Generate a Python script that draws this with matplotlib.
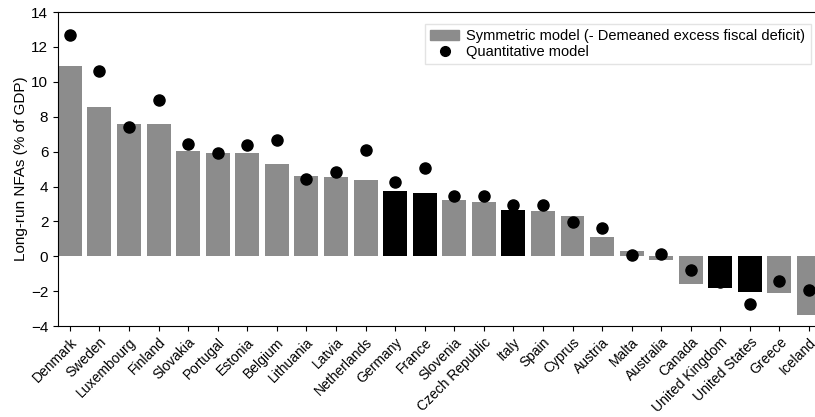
import numpy as np
import matplotlib.pyplot as plt
from matplotlib.patches import Patch
from matplotlib.lines import Line2D

plt.rcParams['font.family'] = ['Liberation Sans', 'DejaVu Sans']
plt.rcParams['font.size'] = 10.5

countries = ['Denmark', 'Sweden', 'Luxembourg', 'Finland', 'Slovakia', 'Portugal',
             'Estonia', 'Belgium', 'Lithuania', 'Latvia', 'Netherlands', 'Germany',
             'France', 'Slovenia', 'Czech Republic', 'Italy', 'Spain', 'Cyprus',
             'Austria', 'Malta', 'Australia', 'Canada', 'United Kingdom',
             'United States', 'Greece', 'Iceland']
symmetric = [10.9, 8.54, 7.6, 7.58, 6.06, 5.95, 5.91, 5.29, 4.59, 4.55, 4.37, 3.72,
             3.65, 3.2, 3.09, 2.63, 2.61, 2.32, 1.12, 0.29, -0.19, -1.59, -1.82,
             -2.05, -2.13, -3.39]
quantitative = [12.66, 10.63, 7.39, 8.98, 6.41, 5.93, 6.37, 6.64, 4.45, 4.82, 6.1, 4.24,
                5.05, 3.47, 3.45, 2.92, 2.93, 1.94, 1.61, 0.08, 0.14, -0.8, -1.5,
                -2.72, -1.44, -1.92]
highlight = ['Germany', 'France', 'Italy', 'United Kingdom', 'United States']

x = np.arange(len(countries))
grey = '#8c8c8c'
colors = ['black' if c in highlight else grey for c in countries]

fig = plt.figure(figsize=(8.15, 4.17), dpi=100)
ax = fig.add_axes([0.0712, 0.218, 0.936, 0.753])

ax.bar(x, symmetric, width=0.81, color=colors)
ax.plot(x, quantitative, 'o', color='black', markersize=8, linestyle='none', zorder=3)

ax.set_xlim(-0.4, len(countries) - 0.6)
ax.set_ylim(-4, 14)
ax.set_yticks(range(-4, 15, 2))
ax.tick_params(axis='y', labelsize=11)
ax.set_xticks(x)
ax.set_xticklabels(countries, rotation=45, ha='right', rotation_mode='anchor',
                   fontsize=10)
ax.tick_params(axis='x', pad=3)
ax.set_ylabel('Long-run NFAs (% of GDP)', labelpad=2, fontsize=11)
ax.spines['right'].set_visible(False)

handles = [Patch(color=grey),
           Line2D([], [], marker='o', color='black', markersize=7, linestyle='none')]
labels = ['Symmetric model (- Demeaned excess fiscal deficit)', 'Quantitative model']
leg = ax.legend(handles, labels, loc='upper right', bbox_to_anchor=(0.996, 0.985),
                frameon=True, fancybox=False, handlelength=2.0, borderpad=0.35,
                labelspacing=0.15, handletextpad=0.5, fontsize=10.5)
leg.get_frame().set_edgecolor('#dddddd')

fig.savefig('out.png', dpi=100)
